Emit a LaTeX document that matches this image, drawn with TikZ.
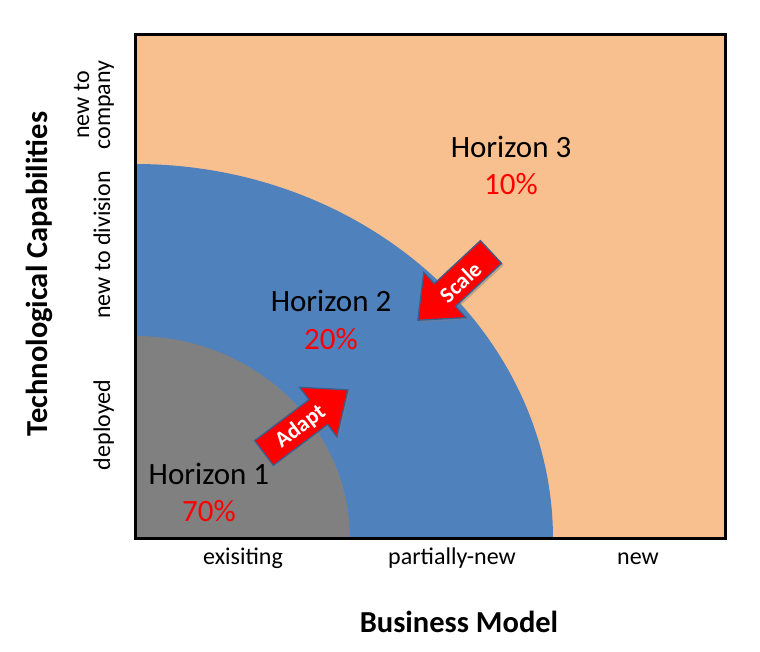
\documentclass[tikz,border=0pt]{standalone}
\usepackage{fontspec}
\setmainfont{Carlito}
\usetikzlibrary{shadows}
\definecolor{peach}{HTML}{F9C08F}
\definecolor{hblue}{HTML}{4F81BD}
\definecolor{hgray}{HTML}{808080}
\definecolor{aborder}{HTML}{3A5F8F}
\tikzset{
  horizon/.style={anchor=base, font=\fontsize{31}{37}\selectfont},
  pct/.style={anchor=base, text=red, font=\fontsize{31}{37}\selectfont},
  tick/.style={anchor=base, font=\fontsize{24}{28}\selectfont},
  ytick/.style={anchor=base, rotate=90, font=\fontsize{24}{28}\selectfont},
  axistitle/.style={anchor=base, font=\bfseries\fontsize{30.5}{36}\selectfont},
  barrow/.style={fill=red, draw=aborder, line width=1.3pt, line join=miter,
    drop shadow={shadow xshift=2pt, shadow yshift=-2pt, opacity=0.45}},
  atext/.style={text=white, font=\bfseries\fontsize{22.5}{24}\selectfont, inner sep=0pt}
}
\begin{document}
\begin{tikzpicture}[x=1pt,y=1pt]
\useasboundingbox (0,0) rectangle (760,652);
\coordinate (O) at (135,113);
\coordinate (TR) at (725,617);
\fill[peach] (O) rectangle (TR);
\begin{scope}
  \clip (O) rectangle (TR);
  \fill[hblue] (O) -- ++(418pt,0pt) arc[start angle=0, end angle=90, x radius=418pt, y radius=375pt] -- cycle;
  \fill[hgray] (O) -- ++(215pt,0pt) arc[start angle=0, end angle=90, x radius=215pt, y radius=203pt] -- cycle;
\end{scope}
\draw[line width=3pt] (O) rectangle (TR);

% region labels
\node[horizon] (h3) at (511,494) {Horizon 3};
\node[pct] (p3) at (511,457) {10\%};
\node[horizon] (h2) at (331,340) {Horizon 2};
\node[pct] (p2) at (331,302) {20\%};
\node[horizon] (h1) at (209,167) {Horizon 1};
\node[pct] (p1) at (209,130) {70\%};

% Adapt arrow
\begin{scope}[shift={(264,199)}, rotate=37]
  \draw[barrow] (0,-15.5) -- (68,-15.5) -- (68,-31) -- (105,0) -- (68,31) -- (68,15.5) -- (0,15.5) -- cycle;
  \node[atext, transform shape] (adapt) at (45,-1) {Adapt};
\end{scope}
% Scale arrow
\begin{scope}[shift={(491,400)}, rotate=223]
  \draw[barrow] (0,-15.5) -- (63,-15.5) -- (63,-31) -- (100,0) -- (63,31) -- (63,15.5) -- (0,15.5) -- cycle;
  \node[atext, transform shape, rotate=180] (scale) at (43,1) {Scale};
\end{scope}

% x axis
\node[tick] (xe) at (243,87) {exisiting};
\node[tick] (xp) at (452,87) {partially-new};
\node[tick] (xn) at (638,87) {new};
\node[axistitle] (xt) at (459,19) {Business Model};

% y axis
\node[ytick] (yd) at (110,227) {deployed};
\node[ytick] (yv) at (110,407) {new to division};
\node[ytick] (yc1) at (89,547) {new to};
\node[ytick] (yc2) at (110,547) {company};
\node[axistitle, rotate=90] (yt) at (47,378) {Technological Capabilities};
\end{tikzpicture}
\end{document}
